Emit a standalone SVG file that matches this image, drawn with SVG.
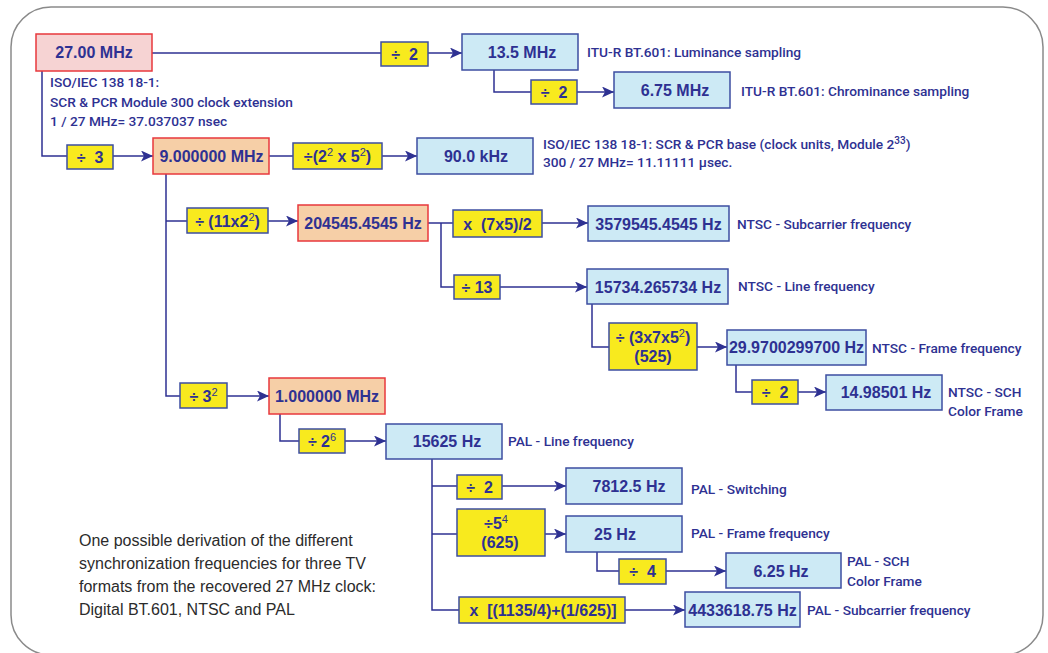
<svg xmlns="http://www.w3.org/2000/svg" width="1048" height="653" viewBox="0 0 1048 653">
<defs>
<marker id="ah" markerUnits="userSpaceOnUse" markerWidth="12" markerHeight="11" viewBox="0 0 12 11" refX="12" refY="5.5" orient="auto">
<path d="M0,0 L12,5.5 L0,11 L3,5.5 z" fill="#2e3192"/>
</marker>
<style>
text{font-family:"Liberation Sans",Arial,sans-serif}
.t{font-weight:bold;font-size:16px;fill:#2e3192;text-anchor:middle;white-space:pre}
.sup{font-weight:normal;font-size:11px}
.l{font-family:Roboto,"Liberation Sans",sans-serif;font-weight:500;font-size:13.7px;fill:#2e3192}
.cap{font-size:16px;fill:#2b2b2b}
.red{fill:#f6d3d3;stroke:#e8383d;stroke-width:1.5}
.pch{fill:#f6cfa7;stroke:#e8383d;stroke-width:1.5}
.blu{fill:#cdeaf5;stroke:#3d4ea1;stroke-width:1.5}
.yel{fill:#f8ea1e;stroke:#3d4ea1;stroke-width:1.5}
.c path{fill:none;stroke:#2e3192;stroke-width:1.5}
.c path.a{marker-end:url(#ah)}
</style>
</defs>
<rect x="0" y="0" width="1048" height="653" fill="#fff"/>
<rect x="11" y="7" width="1032" height="648" rx="40" fill="#fff" stroke="#8a8a8a" stroke-width="1.5"/>

<g class="c" id="connectors">
<path d="M152,53 H381"/><path class="a" d="M428,53 H462"/>
<path d="M494,70 V92 H531"/><path class="a" d="M577,92 H614"/>
<path d="M42,71 V156 H67"/><path class="a" d="M113,156 H153"/>
<path d="M269,156 H293"/><path class="a" d="M382,156 H417"/>
<path d="M166,174 V396 H180"/><path class="a" d="M227,396 H269"/>
<path d="M166,221 H187"/><path class="a" d="M268,221 H298"/>
<path d="M428,223 H453"/><path class="a" d="M542,223 H588"/>
<path d="M441,223 V287 H454"/><path class="a" d="M500,287 H587"/>
<path d="M592,304 V347 H609"/><path class="a" d="M697,347 H727"/>
<path d="M736,365 V392 H752"/><path class="a" d="M798,392 H826"/>
<path d="M280,414 V441 H299"/><path class="a" d="M345,441 H386"/>
<path d="M432,459 V610 H459"/><path class="a" d="M625,610 H685"/>
<path d="M432,486 H457"/><path class="a" d="M502,486 H566"/>
<path d="M432,534 H457"/><path class="a" d="M545,534 H566"/>
<path d="M597,552 V571 H619"/><path class="a" d="M666,571 H726"/>
</g>

<g id="n27"><rect class="red" x="36" y="34" width="116" height="37"/><text class="t" x="94" y="58">27.00 MHz</text></g>
<g id="d1"><rect class="yel" x="381" y="42" width="47" height="24"/><text class="t" x="404.5" y="60">÷  2</text></g>
<g id="n135"><rect class="blu" x="462" y="34" width="116" height="36"/><text class="t" x="522" y="58">13.5 MHz</text></g>
<g id="d2"><rect class="yel" x="531" y="80" width="46" height="24"/><text class="t" x="554" y="98">÷  2</text></g>
<g id="n675"><rect class="blu" x="614" y="72" width="116" height="36"/><text class="t" x="675" y="96">6.75 MHz</text></g>
<g id="d3"><rect class="yel" x="67" y="145" width="46" height="24"/><text class="t" x="90" y="163">÷  3</text></g>
<g id="n9"><rect class="pch" x="153" y="138" width="116" height="36"/><text class="t" x="211.5" y="162">9.000000 MHz</text></g>
<g id="d4"><rect class="yel" x="293" y="143" width="89" height="26"/><text class="t" x="337.5" y="162">÷(2<tspan class="sup" dy="-6">2</tspan><tspan dy="6"> x 5</tspan><tspan class="sup" dy="-6">2</tspan><tspan dy="6">)</tspan></text></g>
<g id="n90"><rect class="blu" x="417" y="138" width="116" height="36"/><text class="t" x="476" y="162">90.0 kHz</text></g>
<g id="d5"><rect class="yel" x="187" y="208" width="81" height="25"/><text class="t" x="227.5" y="227">÷ (11x2<tspan class="sup" dy="-6">2</tspan><tspan dy="6">)</tspan></text></g>
<g id="n204"><rect class="pch" x="298" y="205" width="130" height="36"/><text class="t" x="363" y="229">204545.4545 Hz</text></g>
<g id="d6"><rect class="yel" x="453" y="210" width="89" height="27"/><text class="t" x="497.5" y="229.5">x  (7x5)/2</text></g>
<g id="n357"><rect class="blu" x="588" y="206" width="141" height="35"/><text class="t" x="658.5" y="229.5">3579545.4545 Hz</text></g>
<g id="d7"><rect class="yel" x="454" y="275" width="46" height="24"/><text class="t" x="477" y="293">÷ 13</text></g>
<g id="n157"><rect class="blu" x="587" y="269" width="141" height="35"/><text class="t" x="658" y="292.5">15734.265734 Hz</text></g>
<g id="d8"><rect class="yel" x="609" y="323" width="88" height="47"/><text class="t" x="653" y="343">÷ (3x7x5<tspan class="sup" dy="-6">2</tspan><tspan dy="6">)</tspan></text><text class="t" x="653" y="362">(525)</text></g>
<g id="n2997"><rect class="blu" x="727" y="330" width="139" height="35"/><text class="t" x="796.5" y="353">29.9700299700 Hz</text></g>
<g id="d9"><rect class="yel" x="752" y="380" width="46" height="24"/><text class="t" x="775" y="398">÷  2</text></g>
<g id="n1498"><rect class="blu" x="826" y="375" width="116" height="35"/><text class="t" x="886" y="398">14.98501 Hz</text></g>
<g id="d10"><rect class="yel" x="180" y="383" width="47" height="25"/><text class="t" x="203.5" y="401.5">÷ 3<tspan class="sup" dy="-6">2</tspan></text></g>
<g id="n1"><rect class="pch" x="269" y="378" width="116" height="36"/><text class="t" x="327" y="402">1.000000 MHz</text></g>
<g id="d11"><rect class="yel" x="299" y="429" width="46" height="24"/><text class="t" x="322" y="447">÷ 2<tspan class="sup" dy="-6">6</tspan></text></g>
<g id="n15625"><rect class="blu" x="386" y="424" width="116" height="35"/><text class="t" x="447" y="447">15625 Hz</text></g>
<g id="d12"><rect class="yel" x="457" y="475" width="45" height="24"/><text class="t" x="479.5" y="493">÷  2</text></g>
<g id="n7812"><rect class="blu" x="566" y="468" width="116" height="36"/><text class="t" x="629" y="492">7812.5 Hz</text></g>
<g id="d13"><rect class="yel" x="457" y="509" width="88" height="47"/><text class="t" x="496" y="529">÷5<tspan class="sup" dy="-6">4</tspan></text><text class="t" x="500" y="548">(625)</text></g>
<g id="n25"><rect class="blu" x="566" y="516" width="116" height="36"/><text class="t" x="615" y="540">25 Hz</text></g>
<g id="d14"><rect class="yel" x="619" y="559" width="47" height="25"/><text class="t" x="642.5" y="577">÷  4</text></g>
<g id="n625"><rect class="blu" x="726" y="553" width="115" height="35"/><text class="t" x="781" y="576.5">6.25 Hz</text></g>
<g id="d15"><rect class="yel" x="459" y="597" width="166" height="26"/><text class="t" x="543" y="616">x  [(1135/4)+(1/625)]</text></g>
<g id="n4433"><rect class="blu" x="685" y="592" width="115" height="35"/><text class="t" x="742.5" y="615.5">4433618.75 Hz</text></g>

<g id="labels">
<text class="l" x="50" y="87">ISO/IEC 138 18-1:</text>
<text class="l" x="50" y="107">SCR &amp; PCR Module 300 clock extension</text>
<text class="l" x="50" y="126">1 / 27 MHz= 37.037037 nsec</text>
<text class="l" x="587" y="57">ITU-R BT.601: Luminance sampling</text>
<text class="l" x="741" y="96">ITU-R BT.601: Chrominance sampling</text>
<text class="l" x="543" y="149">ISO/IEC 138 18-1: SCR &amp; PCR base (clock units, Module 2<tspan font-size="10" dy="-5">33</tspan><tspan dy="5">)</tspan></text>
<text class="l" x="543" y="167">300 / 27 MHz= 11.11111 µsec.</text>
<text class="l" x="737" y="229">NTSC - Subcarrier frequency</text>
<text class="l" x="738" y="291">NTSC - Line frequency</text>
<text class="l" x="872" y="353">NTSC - Frame frequency</text>
<text class="l" x="948" y="397">NTSC - SCH</text>
<text class="l" x="948" y="416">Color Frame</text>
<text class="l" x="508" y="446">PAL - Line frequency</text>
<text class="l" x="691" y="494">PAL - Switching</text>
<text class="l" x="691" y="538">PAL - Frame frequency</text>
<text class="l" x="847" y="566">PAL - SCH</text>
<text class="l" x="847" y="586">Color Frame</text>
<text class="l" x="807" y="615">PAL - Subcarrier frequency</text>
</g>

<g id="caption">
<text class="cap" x="79" y="546">One possible derivation of the different</text>
<text class="cap" x="79" y="569">synchronization frequencies for three TV</text>
<text class="cap" x="79" y="592">formats from the recovered 27 MHz clock:</text>
<text class="cap" x="79" y="615">Digital BT.601, NTSC and PAL</text>
</g>
</svg>
